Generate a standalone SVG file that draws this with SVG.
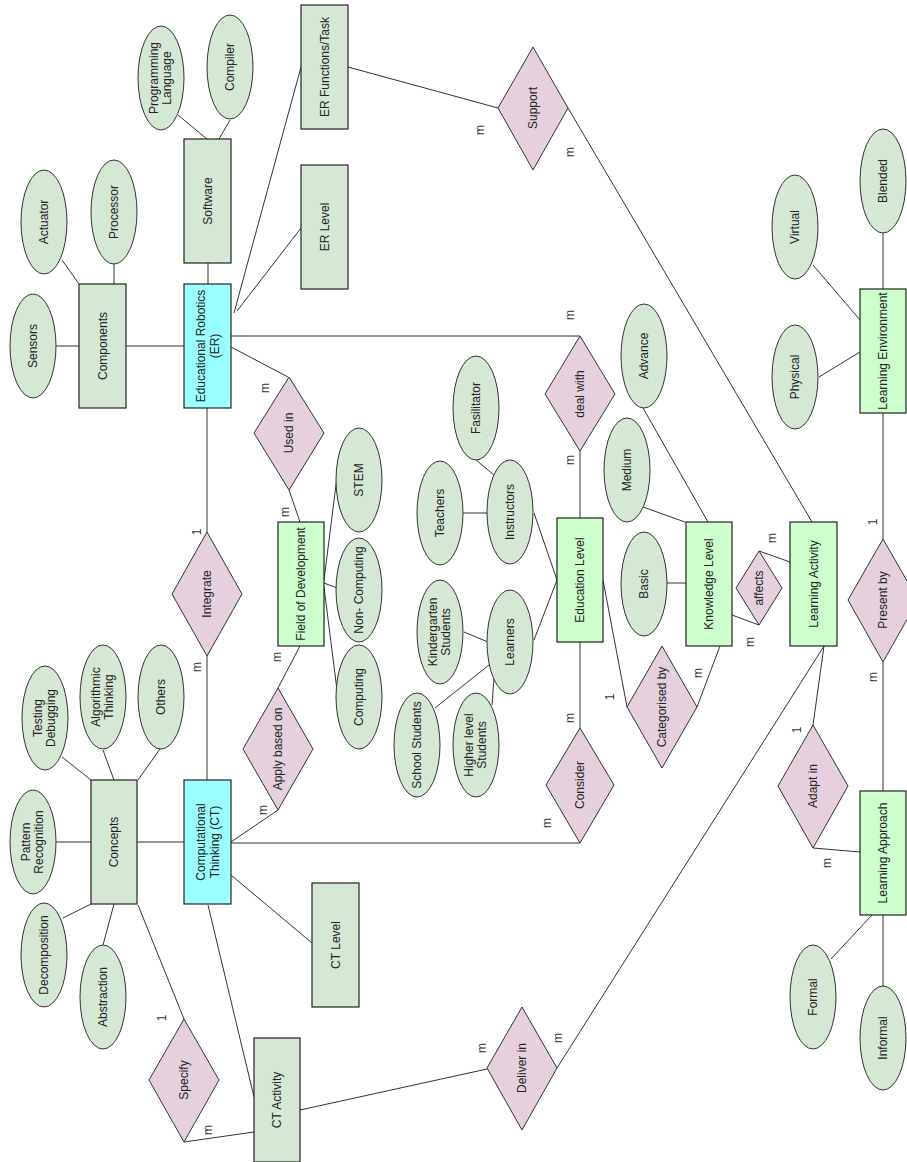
<svg xmlns="http://www.w3.org/2000/svg" width="907" height="1162" viewBox="0 0 907 1162">
<style>
text{font-family:"Liberation Sans",Arial,sans-serif;font-size:12px;fill:#222;text-anchor:middle}
.e{stroke:#222;stroke-width:1.2}
.g{fill:#d5e8d4}.c{fill:#99ffff}.l{fill:#ccffcc}
.r{fill:#e6d0de;stroke:#333;stroke-width:1}
.a{fill:#d5e8d4;stroke:#333;stroke-width:1}
#conn line{stroke:#333;stroke-width:1}
.k{font-size:12px;fill:#333}
</style>
<rect width="907" height="1162" fill="#fff"/>
<g id="conn">
<line x1="56" y1="346" x2="79" y2="346"/>
<line x1="62" y1="260" x2="79" y2="284"/>
<line x1="114" y1="264" x2="114" y2="284"/>
<line x1="126" y1="346" x2="184" y2="346"/>
<line x1="208" y1="263" x2="208" y2="284"/>
<line x1="178" y1="115" x2="207" y2="139"/>
<line x1="230" y1="120" x2="219" y2="139"/>
<line x1="234" y1="313" x2="301" y2="67"/>
<line x1="237" y1="311" x2="301" y2="228"/>
<line x1="231" y1="336" x2="580" y2="336"/>
<line x1="231" y1="347" x2="288" y2="377"/>
<line x1="207" y1="408" x2="207" y2="532"/>
<line x1="289" y1="490" x2="300" y2="522"/>
<line x1="207" y1="656" x2="207" y2="780"/>
<line x1="300" y1="646" x2="278" y2="688"/>
<line x1="278" y1="810" x2="231" y2="842"/>
<line x1="324" y1="580" x2="337" y2="477"/>
<line x1="324" y1="583" x2="337" y2="588"/>
<line x1="324" y1="587" x2="337" y2="690"/>
<line x1="494" y1="475" x2="476" y2="460"/>
<line x1="463" y1="513" x2="488" y2="513"/>
<line x1="534" y1="513" x2="557" y2="580"/>
<line x1="534" y1="640" x2="557" y2="580"/>
<line x1="464" y1="632" x2="488" y2="642"/>
<line x1="435" y1="708" x2="489" y2="665"/>
<line x1="492" y1="705" x2="494" y2="678"/>
<line x1="580" y1="451" x2="580" y2="518"/>
<line x1="580" y1="642" x2="580" y2="728"/>
<line x1="231" y1="843" x2="580" y2="843"/>
<line x1="231" y1="875" x2="312" y2="943"/>
<line x1="208" y1="905" x2="254" y2="1097"/>
<line x1="138" y1="905" x2="184" y2="1019"/>
<line x1="184" y1="1142" x2="254" y2="1132"/>
<line x1="300" y1="1110" x2="487" y2="1069"/>
<line x1="557" y1="1068" x2="824" y2="646"/>
<line x1="824" y1="646" x2="813" y2="725"/>
<line x1="813" y1="848" x2="860" y2="852"/>
<line x1="568" y1="108" x2="812" y2="522"/>
<line x1="348" y1="67" x2="498" y2="108"/>
<line x1="708" y1="522" x2="643" y2="408"/>
<line x1="685" y1="522" x2="643" y2="507"/>
<line x1="667" y1="583" x2="686" y2="583"/>
<line x1="732" y1="615" x2="759" y2="625"/>
<line x1="759" y1="551" x2="790" y2="562"/>
<line x1="603" y1="580" x2="627" y2="707"/>
<line x1="697" y1="707" x2="720" y2="646"/>
<line x1="883" y1="413" x2="883" y2="539"/>
<line x1="883" y1="662" x2="883" y2="791"/>
<line x1="860" y1="320" x2="813" y2="265"/>
<line x1="860" y1="352" x2="819" y2="377"/>
<line x1="883" y1="232" x2="883" y2="289"/>
<line x1="872" y1="915" x2="831" y2="959"/>
<line x1="883" y1="915" x2="883" y2="987"/>
<line x1="62" y1="757" x2="91" y2="780"/>
<line x1="103" y1="750" x2="114" y2="780"/>
<line x1="160" y1="749" x2="138" y2="780"/>
<line x1="56" y1="842" x2="91" y2="842"/>
<line x1="91" y1="904" x2="63" y2="918"/>
<line x1="114" y1="904" x2="103" y2="945"/>
<line x1="137" y1="842" x2="184" y2="842"/>
</g>
<g id="cardinalities">
<text class="k" transform="translate(480,130) rotate(-90)" dy="4">m</text>
<text class="k" transform="translate(570,152) rotate(-90)" dy="4">m</text>
<text class="k" transform="translate(570,315) rotate(-90)" dy="4">m</text>
<text class="k" transform="translate(570,460) rotate(-90)" dy="4">m</text>
<text class="k" transform="translate(265,388) rotate(-90)" dy="4">m</text>
<text class="k" transform="translate(285,512) rotate(-90)" dy="4">m</text>
<text class="k" transform="translate(197,532) rotate(-90)" dy="4">1</text>
<text class="k" transform="translate(197,667) rotate(-90)" dy="4">m</text>
<text class="k" transform="translate(277,657) rotate(-90)" dy="4">m</text>
<text class="k" transform="translate(263,810) rotate(-90)" dy="4">m</text>
<text class="k" transform="translate(570,718) rotate(-90)" dy="4">m</text>
<text class="k" transform="translate(547,823) rotate(-90)" dy="4">m</text>
<text class="k" transform="translate(610,697) rotate(-90)" dy="4">1</text>
<text class="k" transform="translate(698,673) rotate(-90)" dy="4">m</text>
<text class="k" transform="translate(772,538) rotate(-90)" dy="4">m</text>
<text class="k" transform="translate(750,642) rotate(-90)" dy="4">m</text>
<text class="k" transform="translate(873,522) rotate(-90)" dy="4">1</text>
<text class="k" transform="translate(873,677) rotate(-90)" dy="4">m</text>
<text class="k" transform="translate(797,730) rotate(-90)" dy="4">1</text>
<text class="k" transform="translate(827,863) rotate(-90)" dy="4">m</text>
<text class="k" transform="translate(162,1018) rotate(-90)" dy="4">1</text>
<text class="k" transform="translate(208,1130) rotate(-90)" dy="4">m</text>
<text class="k" transform="translate(482,1048) rotate(-90)" dy="4">m</text>
<text class="k" transform="translate(558,1038) rotate(-90)" dy="4">m</text>
</g>
<g id="components"><rect class="e g" x="79" y="284" width="47" height="124"/><text transform="translate(102.5,346) rotate(-90)" dy="4">Components</text></g>
<g id="software"><rect class="e g" x="184" y="139" width="47" height="124"/><text transform="translate(207.5,201) rotate(-90)" dy="4">Software</text></g>
<g id="er"><rect class="e c" x="184" y="284" width="47" height="124"/><text transform="translate(207.5,346) rotate(-90)"><tspan x="0" y="-3">Educational Robotics</tspan><tspan x="0" y="11">(ER)</tspan></text></g>
<g id="er-functions"><rect class="e g" x="301" y="5" width="47" height="124"/><text transform="translate(324.5,67) rotate(-90)" dy="4">ER Functions/Task</text></g>
<g id="er-level"><rect class="e g" x="301" y="165" width="47" height="124"/><text transform="translate(324.5,227) rotate(-90)" dy="4">ER Level</text></g>
<g id="field-dev"><rect class="e l" x="278" y="522" width="46" height="124"/><text transform="translate(301,584) rotate(-90)" dy="4">Field of Development</text></g>
<g id="education-level"><rect class="e l" x="557" y="518" width="46" height="124"/><text transform="translate(580,580) rotate(-90)" dy="4">Education Level</text></g>
<g id="knowledge-level"><rect class="e l" x="686" y="522" width="46" height="124"/><text transform="translate(709,584) rotate(-90)" dy="4">Knowledge Level</text></g>
<g id="learning-activity"><rect class="e l" x="790" y="522" width="47" height="124"/><text transform="translate(813.5,584) rotate(-90)" dy="4">Learning Activity</text></g>
<g id="learning-environment"><rect class="e l" x="860" y="289" width="46" height="124"/><text transform="translate(883,351) rotate(-90)" dy="4">Learning Environment</text></g>
<g id="learning-approach"><rect class="e l" x="860" y="791" width="46" height="124"/><text transform="translate(883,853) rotate(-90)" dy="4">Learning Approach</text></g>
<g id="concepts"><rect class="e g" x="91" y="780" width="46" height="124"/><text transform="translate(114,842) rotate(-90)" dy="4">Concepts</text></g>
<g id="ct"><rect class="e c" x="184" y="780" width="47" height="124"/><text transform="translate(207.5,842) rotate(-90)"><tspan x="0" y="-3">Computational</tspan><tspan x="0" y="11">Thinking (CT)</tspan></text></g>
<g id="ct-level"><rect class="e g" x="312" y="883" width="47" height="124"/><text transform="translate(335.5,945) rotate(-90)" dy="4">CT Level</text></g>
<g id="ct-activity"><rect class="e g" x="254" y="1038" width="46" height="124"/><text transform="translate(277,1100) rotate(-90)" dy="4">CT Activity</text></g>
<g id="support"><polygon class="r" points="533,47 568,108 533,170 498,108"/><text transform="translate(533,108) rotate(-90)" dy="4">Support</text></g>
<g id="used-in"><polygon class="r" points="289,377 324,433 289,490 254,433"/><text transform="translate(289,433) rotate(-90)" dy="4">Used in</text></g>
<g id="deal-with"><polygon class="r" points="580,336 615,394 580,451 545,394"/><text transform="translate(580,394) rotate(-90)" dy="4">deal with</text></g>
<g id="integrate"><polygon class="r" points="207,532 242,594 207,656 172,594"/><text transform="translate(207,594) rotate(-90)" dy="4">Integrate</text></g>
<g id="apply-based-on"><polygon class="r" points="278,688 313,749 278,810 243,749"/><text transform="translate(278,749) rotate(-90)" dy="4">Apply based on</text></g>
<g id="consider"><polygon class="r" points="580,728 614,785 580,843 546,785"/><text transform="translate(580,785) rotate(-90)" dy="4">Consider</text></g>
<g id="categorised-by"><polygon class="r" points="662,646 697,707 662,768 627,707"/><text transform="translate(662,707) rotate(-90)" dy="4">Categorised by</text></g>
<g id="affects"><polygon class="r" points="759,551 782,588 759,625 736,588"/><text transform="translate(759,588) rotate(-90)" dy="4">affects</text></g>
<g id="present-by"><polygon class="r" points="883,539 918,600 883,662 848,600"/><text transform="translate(883,600) rotate(-90)" dy="4">Present by</text></g>
<g id="adapt-in"><polygon class="r" points="813,725 848,786 813,848 778,786"/><text transform="translate(813,786) rotate(-90)" dy="4">Adapt in</text></g>
<g id="specify"><polygon class="r" points="184,1019 219,1080 184,1142 149,1080"/><text transform="translate(184,1080) rotate(-90)" dy="4">Specify</text></g>
<g id="deliver-in"><polygon class="r" points="522,1007 557,1068 522,1130 487,1068"/><text transform="translate(522,1068) rotate(-90)" dy="4">Deliver in</text></g>
<g id="sensors"><ellipse class="a" cx="33" cy="346" rx="23" ry="52"/><text transform="translate(33,346) rotate(-90)" dy="4">Sensors</text></g>
<g id="actuator"><ellipse class="a" cx="44" cy="222" rx="23" ry="52"/><text transform="translate(44,222) rotate(-90)" dy="4">Actuator</text></g>
<g id="processor"><ellipse class="a" cx="114" cy="212" rx="23" ry="52"/><text transform="translate(114,212) rotate(-90)" dy="4">Processor</text></g>
<g id="programming-language"><ellipse class="a" cx="161" cy="78" rx="23" ry="52"/><text transform="translate(161,78) rotate(-90)"><tspan x="0" y="-3">Programming</tspan><tspan x="0" y="10">Language</tspan></text></g>
<g id="compiler"><ellipse class="a" cx="230" cy="67" rx="23" ry="52"/><text transform="translate(230,67) rotate(-90)" dy="4">Compiler</text></g>
<g id="testing-debugging"><ellipse class="a" cx="45" cy="718" rx="23" ry="52"/><text transform="translate(45,718) rotate(-90)"><tspan x="0" y="-3">Testing</tspan><tspan x="0" y="10">Debugging</tspan></text></g>
<g id="algorithmic-thinking"><ellipse class="a" cx="103" cy="697" rx="23" ry="52"/><text transform="translate(103,697) rotate(-90)"><tspan x="0" y="-3">Algorithmic</tspan><tspan x="0" y="10">Thinking</tspan></text></g>
<g id="others"><ellipse class="a" cx="161" cy="697" rx="23" ry="52"/><text transform="translate(161,697) rotate(-90)" dy="4">Others</text></g>
<g id="pattern-recognition"><ellipse class="a" cx="33" cy="842" rx="23" ry="52"/><text transform="translate(33,842) rotate(-90)"><tspan x="0" y="-3">Pattern</tspan><tspan x="0" y="10">Recognition</tspan></text></g>
<g id="decomposition"><ellipse class="a" cx="44" cy="955" rx="23" ry="52"/><text transform="translate(44,955) rotate(-90)" dy="4">Decomposition</text></g>
<g id="abstraction"><ellipse class="a" cx="103" cy="997" rx="23" ry="52"/><text transform="translate(103,997) rotate(-90)" dy="4">Abstraction</text></g>
<g id="stem"><ellipse class="a" cx="359" cy="480" rx="23" ry="52"/><text transform="translate(359,480) rotate(-90)" dy="4">STEM</text></g>
<g id="non-computing"><ellipse class="a" cx="359" cy="590" rx="23" ry="52"/><text transform="translate(359,590) rotate(-90)" dy="4">Non- Computing</text></g>
<g id="computing"><ellipse class="a" cx="359" cy="697" rx="23" ry="52"/><text transform="translate(359,697) rotate(-90)" dy="4">Computing</text></g>
<g id="fasilitator"><ellipse class="a" cx="476" cy="408" rx="23" ry="52"/><text transform="translate(476,408) rotate(-90)" dy="4">Fasilitator</text></g>
<g id="teachers"><ellipse class="a" cx="440" cy="513" rx="23" ry="52"/><text transform="translate(440,513) rotate(-90)" dy="4">Teachers</text></g>
<g id="instructors"><ellipse class="a" cx="510" cy="512" rx="23" ry="52"/><text transform="translate(510,512) rotate(-90)" dy="4">Instructors</text></g>
<g id="kindergarten"><ellipse class="a" cx="440" cy="632" rx="23" ry="52"/><text transform="translate(440,632) rotate(-90)"><tspan x="0" y="-3">Kindergarten</tspan><tspan x="0" y="10">Students</tspan></text></g>
<g id="learners"><ellipse class="a" cx="510" cy="642" rx="23" ry="52"/><text transform="translate(510,642) rotate(-90)" dy="4">Learners</text></g>
<g id="school-students"><ellipse class="a" cx="417" cy="745" rx="23" ry="52"/><text transform="translate(417,745) rotate(-90)" dy="4">School Students</text></g>
<g id="higher-level"><ellipse class="a" cx="476" cy="745" rx="23" ry="52"/><text transform="translate(476,745) rotate(-90)"><tspan x="0" y="-3">Higher level</tspan><tspan x="0" y="10">Students</tspan></text></g>
<g id="advance"><ellipse class="a" cx="644" cy="356" rx="23" ry="52"/><text transform="translate(644,356) rotate(-90)" dy="4">Advance</text></g>
<g id="medium"><ellipse class="a" cx="627" cy="470" rx="23" ry="52"/><text transform="translate(627,470) rotate(-90)" dy="4">Medium</text></g>
<g id="basic"><ellipse class="a" cx="644" cy="584" rx="23" ry="52"/><text transform="translate(644,584) rotate(-90)" dy="4">Basic</text></g>
<g id="virtual"><ellipse class="a" cx="795" cy="227" rx="23" ry="52"/><text transform="translate(795,227) rotate(-90)" dy="4">Virtual</text></g>
<g id="blended"><ellipse class="a" cx="883" cy="181" rx="23" ry="52"/><text transform="translate(883,181) rotate(-90)" dy="4">Blended</text></g>
<g id="physical"><ellipse class="a" cx="795" cy="377" rx="23" ry="52"/><text transform="translate(795,377) rotate(-90)" dy="4">Physical</text></g>
<g id="formal"><ellipse class="a" cx="813" cy="997" rx="23" ry="52"/><text transform="translate(813,997) rotate(-90)" dy="4">Formal</text></g>
<g id="informal"><ellipse class="a" cx="883" cy="1038" rx="23" ry="52"/><text transform="translate(883,1038) rotate(-90)" dy="4">Informal</text></g>
</svg>
